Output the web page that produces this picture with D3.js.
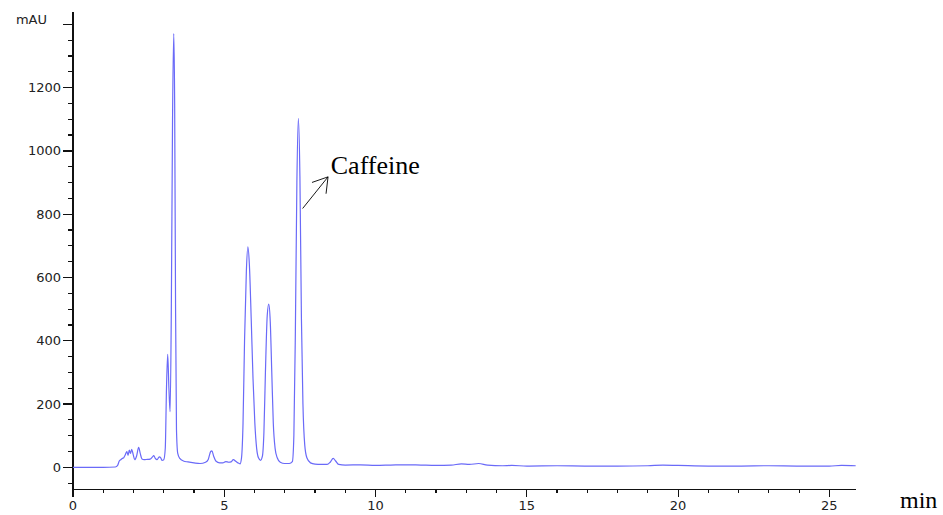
<!DOCTYPE html>
<html lang="en">
<head>
<meta charset="UTF-8">
<title>Chromatogram</title>
<script src="https://cdn.jsdelivr.net/npm/d3@7"></script>
<style>
    body { margin: 0; background: white; }
    .tick-label { font-family: "DejaVu Sans", Verdana, sans-serif; font-size: 13px; fill: #222; }
    .serif { font-family: "Liberation Serif", "Times New Roman", serif; fill: #000; }
</style>
</head>
<body>
<script>
    // retention time (min) and absorbance (mAU)
    const times = [0, 1.0, 1.40, 1.47, 1.53, 1.58, 1.63, 1.68, 1.73, 1.78, 1.82, 1.86, 1.90, 1.94, 1.99,
        2.04, 2.10, 2.17, 2.22, 2.28, 2.35, 2.45, 2.55, 2.62, 2.67, 2.72, 2.78, 2.85, 2.90, 2.94,
        3.00, 3.05, 3.09, 3.13, 3.17, 3.21, 3.25, 3.29, 3.33, 3.36, 3.39, 3.42, 3.46, 3.53, 3.65,
        3.80, 4.0, 4.2, 4.38, 4.47, 4.55, 4.59, 4.65, 4.72, 4.85, 4.95, 5.05, 5.15, 5.22, 5.30,
        5.38, 5.45, 5.52, 5.57, 5.62, 5.67, 5.73, 5.78, 5.83, 5.89, 5.95, 6.01, 6.07, 6.13, 6.20,
        6.26, 6.31, 6.36, 6.42, 6.47, 6.52, 6.57, 6.62, 6.68, 6.75, 6.85, 7.0, 7.15, 7.25, 7.30,
        7.35, 7.40, 7.45, 7.50, 7.55, 7.60, 7.66, 7.73, 7.85, 8.0, 8.2, 8.40, 8.50, 8.60, 8.68,
        8.78, 9.0, 9.5, 10, 10.5, 11, 11.5, 12, 12.5, 12.84, 13.1, 13.41, 13.7, 14.2, 14.5,
        15, 16, 17, 18, 19, 19.5, 20, 21, 22, 23, 24, 25, 25.4, 25.87];
    const mAU = [0, 0, 1, 5, 20, 24, 28, 31, 40, 50, 38, 54, 44, 57, 40,
        24, 35, 63, 45, 26, 24, 25, 26, 32, 37, 28, 24, 33, 30, 22,
        24, 60, 250, 357, 250, 176, 500, 1100, 1371, 1150, 500, 120, 45, 28, 20,
        17, 14, 12, 16, 25, 50, 52, 35, 20, 14, 14, 18, 16, 17, 24,
        19, 14, 11, 30, 140, 400, 620, 697, 640, 470, 280, 140, 60, 30, 22,
        35, 110, 300, 480, 516, 460, 300, 140, 60, 30, 16, 12, 12, 18, 100,
        430, 900, 1103, 920, 470, 200, 70, 30, 14, 10, 9, 9, 16, 28, 20,
        9, 7, 8, 6, 7, 8, 7, 6, 7, 11, 9, 12, 7, 5, 6,
        4, 5, 4, 4, 5, 7, 6, 4, 4, 5, 4, 4, 6, 5];

    const xMajor = [0, 5, 10, 15, 20, 25];
    const yMajor = [0, 200, 400, 600, 800, 1000, 1200, 1400];
    const yLabelled = [0, 200, 400, 600, 800, 1000, 1200];

    const W = 943, H = 515;
    const svg = d3.select("body").append("svg").attr("width", W).attr("height", H);

    const x = d3.scaleLinear().domain([0, 25.87]).range([73, 855.7]);
    const y = d3.scaleLinear().domain([-69.5, 1439]).range([489.3, 12]);

    // ---- axes ----
    const xMinor = d3.range(0, 26, 1).filter(v => !xMajor.includes(v));
    const yMinor = d3.range(-50, 1439, 50).filter(v => !yMajor.includes(v));

    const ax = svg.append("g").attr("stroke", "#111").attr("stroke-width", 1.2).attr("shape-rendering", "crispEdges");
    ax.append("line").attr("x1", x(0)).attr("x2", x(25.87)).attr("y1", y(-69.5)).attr("y2", y(-69.5));
    ax.append("line").attr("x1", x(0)).attr("x2", x(0)).attr("y1", y(-69.5)).attr("y2", y(1439));

    ax.selectAll(".xmaj").data(xMajor).join("line")
        .attr("x1", d => x(d)).attr("x2", d => x(d))
        .attr("y1", y(-69.5)).attr("y2", y(-69.5) + 8);
    ax.selectAll(".xmin").data(xMinor).join("line")
        .attr("class", "xmin")
        .attr("x1", d => x(d)).attr("x2", d => x(d))
        .attr("y1", y(-69.5)).attr("y2", y(-69.5) + 4);
    ax.selectAll(".ymaj").data(yMajor).join("line")
        .attr("class", "ymaj")
        .attr("x1", x(0) - 10).attr("x2", x(0))
        .attr("y1", d => y(d)).attr("y2", d => y(d));
    ax.selectAll(".ymin").data(yMinor).join("line")
        .attr("class", "ymin")
        .attr("x1", x(0) - 5).attr("x2", x(0))
        .attr("y1", d => y(d)).attr("y2", d => y(d));

    svg.selectAll(".xl").data(xMajor).join("text")
        .attr("class", "tick-label")
        .attr("x", d => x(d)).attr("y", y(-69.5) + 21)
        .attr("text-anchor", "middle")
        .text(d => d);
    svg.selectAll(".yl").data(yLabelled).join("text")
        .attr("class", "tick-label")
        .attr("x", x(0) - 12).attr("y", d => y(d))
        .attr("dy", "0.35em")
        .attr("text-anchor", "end")
        .text(d => d);
    svg.append("text").attr("class", "tick-label")
        .attr("x", 47).attr("y", y(1400))
        .attr("text-anchor", "end")
        .text("mAU");

    svg.append("text").attr("class", "serif")
        .attr("x", 900).attr("y", 508)
        .attr("font-size", 24)
        .text("min");

    // ---- trace ----
    const pts = times.map((t, i) => [t, mAU[i]]);
    const line = d3.line().x(d => x(d[0])).y(d => y(d[1])).curve(d3.curveMonotoneX);
    svg.append("path")
        .attr("d", line(pts))
        .attr("fill", "none")
        .attr("stroke", "#6a6af8")
        .attr("stroke-width", 1.2);

    // ---- caffeine annotation ----
    const a0 = [x(7.59), y(818)], a1 = [x(8.43), y(918)];
    const ang = Math.atan2(a1[1] - a0[1], a1[0] - a0[0]);
    const hl = 17, spread = 32 * Math.PI / 180;
    const ann = svg.append("g").attr("stroke", "#000").attr("stroke-width", 0.9);
    ann.append("line").attr("x1", a0[0]).attr("y1", a0[1]).attr("x2", a1[0]).attr("y2", a1[1]);
    [-spread, spread].forEach(s => {
        ann.append("line")
            .attr("x1", a1[0]).attr("y1", a1[1])
            .attr("x2", a1[0] - hl * Math.cos(ang + s))
            .attr("y2", a1[1] - hl * Math.sin(ang + s));
    });
    svg.append("text").attr("class", "serif")
        .attr("x", x(8.52)).attr("y", y(928))
        .attr("font-size", 26)
        .text("Caffeine");
</script>
</body>
</html>
